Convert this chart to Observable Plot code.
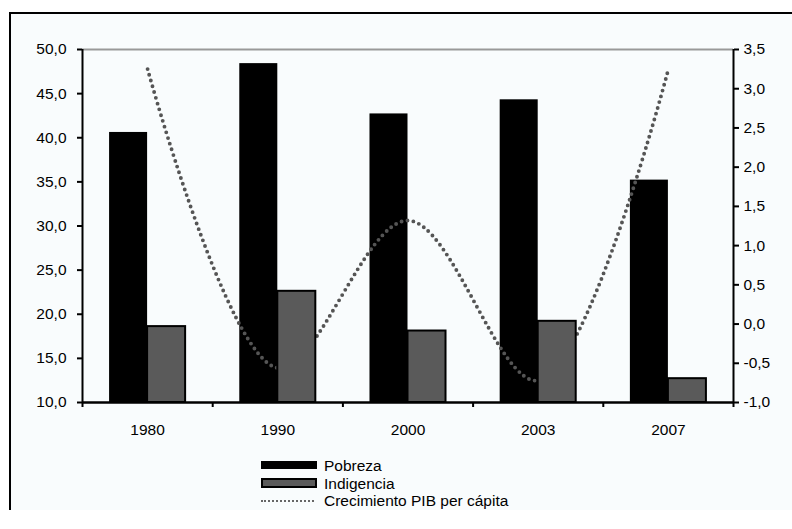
<!DOCTYPE html>
<html>
<head>
<meta charset="utf-8">
<script src="https://cdn.jsdelivr.net/npm/d3@7"></script>
<script src="https://cdn.jsdelivr.net/npm/@observablehq/plot@0.6"></script>
<style>
  html, body { margin: 0; padding: 0; background: #ffffff; }
  #wrap { position: relative; width: 792px; height: 529px; overflow: hidden; font-family: "Liberation Sans", Arial, sans-serif; }
  #frame { position: absolute; left: 9px; top: 12px; width: 800px; height: 498px; background: #f9fcfd; border-left: 2px solid #000; border-top: 2px solid #000; box-sizing: border-box; }
  #chart { position: absolute; left: 0; top: 0; }
  #legend { position: absolute; left: 261px; top: 458px; font-size: 15.5px; color: #000; }
  .item { position: relative; height: 17.5px; }
  .sw { position: absolute; left: 0; }
  .lab { position: absolute; left: 63px; top: -1px; white-space: nowrap; line-height: 17px; }
</style>
</head>
<body>
<div id="wrap">
  <div id="frame"></div>
  <div id="chart"></div>
  <div id="legend"></div>
</div>
<script>
// ---- data ----
const years = ["1980", "1990", "2000", "2003", "2007"];
const pobreza = [40.6, 48.4, 42.7, 44.3, 35.2];
const indigencia = [18.6, 22.6, 18.1, 19.2, 12.7];
const pibPerCapita = [3.25, -0.56, 1.32, -0.72, 3.25];
const leftTicks = [10, 15, 20, 25, 30, 35, 40, 45, 50];
const rightTicks = [-1, -0.5, 0, 0.5, 1, 1.5, 2, 2.5, 3, 3.5];
const seriesNames = ["Pobreza", "Indigencia", "Crecimiento PIB per cápita"];

// ---- helpers ----
const leftMin = 10, leftMax = 50, rightMin = -1, rightMax = 3.5;
const toLeft = v => leftMin + (v - rightMin) * (leftMax - leftMin) / (rightMax - rightMin);
const toRight = v => rightMin + (v - leftMin) * (rightMax - rightMin) / (leftMax - leftMin);
const fmt = v => d3.format(".1f")(Math.abs(v) < 1e-9 ? 0 : v).replace(".", ",").replace("−", "-");

const barW = 0.292; // fraction of category width per bar
const rows = years.map((y, i) => ({i, year: y, p: pobreza[i], ind: indigencia[i], g: pibPerCapita[i]}));
const boundaries = d3.range(years.length + 1).map(k => k - 0.5);
const FS = 15.5;

const chart = Plot.plot({
  width: 792,
  height: 529,
  marginLeft: 82,
  marginRight: 59,
  marginTop: 49,
  marginBottom: 127,
  style: {background: "transparent", fontFamily: "Liberation Sans, Arial, sans-serif", fontSize: FS + "px", color: "#000"},
  x: {type: "linear", domain: [-0.5, years.length - 0.5], axis: null, label: null},
  y: {domain: [leftMin, leftMax], axis: null, label: null},
  marks: [
    Plot.rectY(rows, {x1: d => d.i - barW, x2: d => d.i, y1: leftMin, y2: "p", fill: "#000"}),
    Plot.line(rows, {x: "i", y: d => toLeft(d.g), curve: "catmull-rom", stroke: "#555", strokeWidth: 3.9, strokeDasharray: "0 6", strokeLinecap: "round"}),
    Plot.rectY(rows, {x1: "i", x2: d => d.i + barW, y1: leftMin, y2: "ind", fill: "#5a5a5a", stroke: "#000", strokeWidth: 2}),
    Plot.ruleY([leftMax], {stroke: "#999", strokeWidth: 2}),
    Plot.ruleX([-0.5], {stroke: "#000", strokeWidth: 2}),
    Plot.ruleX([years.length - 0.5], {stroke: "#000", strokeWidth: 2}),
    Plot.ruleY([leftMin], {stroke: "#000", strokeWidth: 2.5}),
    Plot.axisY(leftTicks, {anchor: "left", label: null, tickSize: 5, tickPadding: 11, tickFormat: fmt, stroke: "#000", strokeWidth: 2, fill: "#000", fontSize: FS}),
    Plot.axisY(rightTicks.map(toLeft), {anchor: "right", label: null, tickSize: 5, tickPadding: 5, tickFormat: d => fmt(toRight(d)), textAnchor: "start", stroke: "#000", strokeWidth: 2, fill: "#000", fontSize: FS}),
    Plot.axisX(boundaries, {anchor: "bottom", label: null, tickSize: 5, tickFormat: () => "", stroke: "#000", strokeWidth: 2}),
    Plot.axisX(rows.map(d => d.i), {anchor: "bottom", label: null, tickSize: 0, tickPadding: 21, tickFormat: i => years[i], fill: "#000", fontSize: FS})
  ]
});
document.getElementById("chart").appendChild(chart);

// ---- legend ----
const legend = d3.select("#legend");
const it1 = legend.append("div").attr("class", "item");
it1.append("div").attr("class", "sw").style("top", "3px").style("width", "56px").style("height", "8px").style("background", "#000");
it1.append("div").attr("class", "lab").text(seriesNames[0]);
const it2 = legend.append("div").attr("class", "item");
it2.append("div").attr("class", "sw").style("top", "2px").style("width", "56px").style("height", "10px").style("background", "#5a5a5a").style("border", "2px solid #000").style("box-sizing", "border-box");
it2.append("div").attr("class", "lab").text(seriesNames[1]);
const it3 = legend.append("div").attr("class", "item");
it3.append("div").attr("class", "sw").style("top", "7px").style("width", "53px").style("height", "0px").style("border-top", "2px dotted #666");
it3.append("div").attr("class", "lab").text(seriesNames[2]);
</script>
</body>
</html>
